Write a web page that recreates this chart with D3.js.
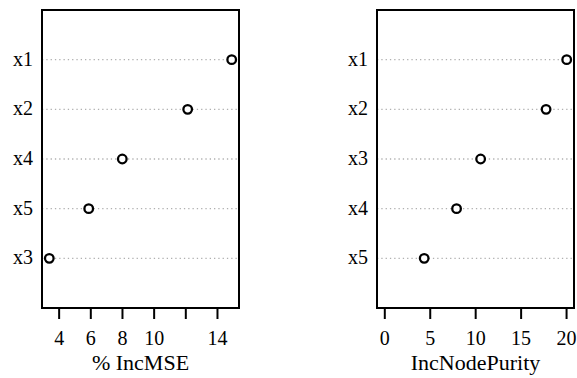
<!DOCTYPE html>
<html>
<head>
<meta charset="utf-8">
<script src="https://cdn.jsdelivr.net/npm/d3@7"></script>
<style>
  body { margin: 0; background: #fff; }
</style>
</head>
<body>
<div id="chart"></div>
<script>
// variable importance
const mseVars = ["x1", "x2", "x4", "x5", "x3"];
const mseVals = [14.93, 12.15, 8.02, 5.9, 3.41];
const mseTicks = [4, 6, 8, 10, 12, 14];
const mseLabels = ["4", "6", "8", "10", "", "14"];

const purityVars = ["x1", "x2", "x3", "x4", "x5"];
const purityVals = [20.07, 17.8, 10.6, 7.95, 4.39];
const purityTicks = [0, 5, 10, 15, 20];
const purityLabels = ["0", "5", "10", "15", "20"];

const width = 577, height = 378;
const serif = "Liberation Serif";

const svg = d3.select("#chart")
    .append("svg")
    .attr("width", width)
    .attr("height", height);

function panel(vars, vals, ticks, labels, title, left, right, fromZero) {
    const top = 10, bottom = 308;
    let lo = fromZero ? 0 : d3.min(vals);
    let hi = d3.max(vals);
    const pad = (hi - lo) * 0.04;

    const x = d3.scaleLinear()
        .domain([lo - pad, hi + pad])
        .range([left, right]);
    const y = d3.scaleLinear()
        .domain([0, vars.length + 1])
        .range([bottom, top]);

    const g = svg.append("g");
    const n = vars.length;

    // dotted guide lines
    g.selectAll("line.guide")
        .data(vars)
        .enter()
        .append("line")
        .attr("class", "guide")
        .attr("x1", left)
        .attr("x2", right)
        .attr("y1", function(d, i) { return y(n - i); })
        .attr("y2", function(d, i) { return y(n - i); })
        .attr("stroke", "#b0b0b0")
        .attr("stroke-width", 1.3)
        .attr("stroke-dasharray", "1.3,3");

    // row labels
    g.selectAll("text.lab")
        .data(vars)
        .enter()
        .append("text")
        .attr("class", "lab")
        .attr("x", left - 9)
        .attr("y", function(d, i) { return y(n - i) + 6; })
        .attr("text-anchor", "end")
        .attr("font-family", serif)
        .attr("font-size", 20)
        .attr("fill", "#000")
        .text(function(d) { return d; });

    // points
    g.selectAll("circle")
        .data(vals)
        .enter()
        .append("circle")
        .attr("cx", function(d) { return x(d); })
        .attr("cy", function(d, i) { return y(n - i); })
        .attr("r", 4.3)
        .attr("fill", "#fff")
        .attr("stroke", "#000")
        .attr("stroke-width", 2.3);

    // box
    g.append("rect")
        .attr("x", left)
        .attr("y", top)
        .attr("width", right - left)
        .attr("height", bottom - top)
        .attr("fill", "none")
        .attr("stroke", "#000")
        .attr("stroke-width", 2);

    // bottom axis
    const axis = g.append("g")
        .attr("transform", "translate(0," + bottom + ")")
        .call(d3.axisBottom(x)
            .tickValues(ticks)
            .tickSize(11)
            .tickPadding(12)
            .tickFormat(function(d, i) { return labels[i]; }));
    axis.attr("font-family", serif).attr("font-size", 20);
    axis.select(".domain").remove();
    axis.selectAll(".tick line").attr("stroke", "#000").attr("stroke-width", 2);
    axis.selectAll(".tick text").attr("fill", "#000");

    g.append("text")
        .attr("x", (left + right) / 2)
        .attr("y", 370)
        .attr("text-anchor", "middle")
        .attr("font-family", serif)
        .attr("font-size", 22)
        .attr("fill", "#000")
        .text(title);
}

panel(mseVars, mseVals, mseTicks, mseLabels, "% IncMSE", 42, 239, false);
panel(purityVars, purityVals, purityTicks, purityLabels, "IncNodePurity", 377, 574, true);
</script>
</body>
</html>
